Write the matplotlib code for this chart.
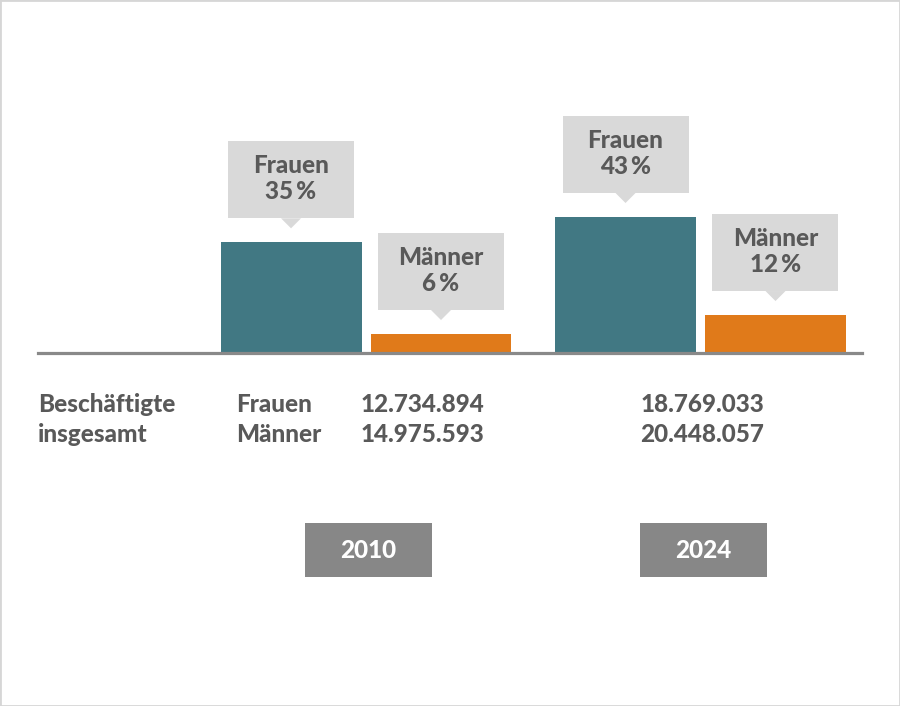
import numpy as np
import matplotlib.pyplot as plt
from matplotlib.patches import Rectangle, Polygon

# Teilzeitquote und Beschäftigte insgesamt
years = ['2010', '2024']
groups = ['Frauen', 'Männer']
teilzeit_frauen = [35, 43]
teilzeit_maenner = [6, 12]
beschaeftigte_frauen = [12734894, 18769033]
beschaeftigte_maenner = [14975593, 20448057]

teal = '#417883'
orange = '#e07a1a'
box_grey = '#d9d9d9'
text_grey = '#595959'
year_grey = '#878787'

plt.rcParams['font.family'] = ['Lato', 'DejaVu Sans']
plt.rcParams['font.weight'] = 900
FS = 17.5

W, H = 900, 706
fig = plt.figure(figsize=(W / 100, H / 100), dpi=100)


def fx(px):
    return px / W


def fy(py):
    return 1 - py / H


def de(n):
    return f'{n:,}'.replace(',', '.')


# Rahmen
fig.patches.append(Rectangle((0, 0), 1, 1, transform=fig.transFigure,
                             fill=False, edgecolor='#d6d6d6', lw=2))

ax = fig.add_axes([fx(38), fy(353), (862 - 38) / W, 253 / H])
ax.set_xlim(-0.9806, 1.4828)
ax.set_ylim(0, 80)
ax.axis('off')

x = np.arange(len(years))
off, bw = 0.2242, 0.4215
bars_f = ax.bar(x - off, teilzeit_frauen, bw, color=teal, zorder=1)
bars_m = ax.bar(x + off, teilzeit_maenner, bw, color=orange, zorder=1)
ax.axhline(0, color='#898989', lw=2.3, zorder=3, clip_on=False)


def callout(bar, label, value):
    dx, dy = ax.transData.transform((bar.get_x() + bar.get_width() / 2, bar.get_height()))
    cx, top_bar = dx, H - dy
    bottom = top_bar - 24
    top = bottom - 77
    fig.patches.append(Rectangle((fx(cx - 63), fy(bottom)), 126 / W, 77 / H,
                                 transform=fig.transFigure, color=box_grey, lw=0))
    tri = [(fx(cx - 10), fy(bottom)), (fx(cx + 10), fy(bottom)), (fx(cx), fy(bottom + 10))]
    fig.patches.append(Polygon(tri, closed=True, transform=fig.transFigure,
                               color=box_grey, lw=0))
    fig.text(fx(cx), fy(top + 32), label, ha='center', va='baseline',
             fontsize=FS, color=text_grey)
    fig.text(fx(cx), fy(top + 58), f'{value}\u2009%', ha='center', va='baseline',
             fontsize=FS, color=text_grey)


for i in range(len(years)):
    callout(bars_f[i], groups[0], teilzeit_frauen[i])
    callout(bars_m[i], groups[1], teilzeit_maenner[i])

# Tabelle
fig.text(fx(38), fy(412), 'Beschäftigte', ha='left', va='baseline', fontsize=FS, color=text_grey)
fig.text(fx(38), fy(442), 'insgesamt', ha='left', va='baseline', fontsize=FS, color=text_grey)
fig.text(fx(236), fy(412), groups[0], ha='left', va='baseline', fontsize=FS, color=text_grey)
fig.text(fx(236), fy(442), groups[1], ha='left', va='baseline', fontsize=FS, color=text_grey)
num_right = [484, 764]
for i in range(len(years)):
    fig.text(fx(num_right[i]), fy(412), de(beschaeftigte_frauen[i]), ha='right',
             va='baseline', fontsize=FS, color=text_grey)
    fig.text(fx(num_right[i]), fy(442), de(beschaeftigte_maenner[i]), ha='right',
             va='baseline', fontsize=FS, color=text_grey)

# Jahreskästen
for i, yr in enumerate(years):
    cx = ax.transData.transform((x[i], 0))[0] + 2.5
    fig.patches.append(Rectangle((fx(cx - 63.5), fy(577)), 127 / W, 54 / H,
                                 transform=fig.transFigure, color=year_grey, lw=0))
    fig.text(fx(cx), fy(550), yr, ha='center', va='center', fontsize=FS, color='white')

fig.savefig('out.png', dpi=100)
